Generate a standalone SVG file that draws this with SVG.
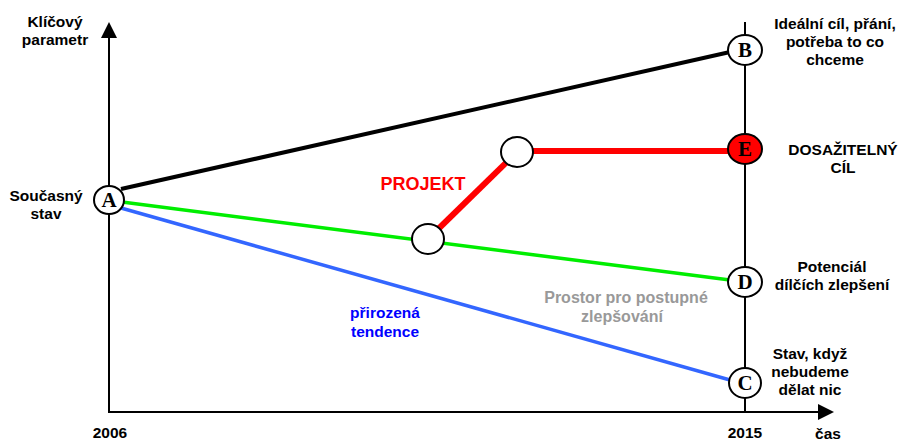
<svg xmlns="http://www.w3.org/2000/svg" width="901" height="442" viewBox="0 0 901 442">
<style>
.t{font-family:"Liberation Sans",Arial,sans-serif;font-weight:bold;font-size:15.5px;fill:#000;text-anchor:middle}
.n{fill:#fff;stroke:#000;stroke-width:2}
.l{font-family:"Liberation Serif","Times New Roman",serif;font-weight:bold;font-size:21px;text-anchor:middle;fill:#000}
</style>
<rect width="901" height="442" fill="#fff"/>
<g id="axes" stroke="#000" stroke-width="2" fill="none">
<line x1="109" y1="412" x2="109" y2="38"/>
<path d="M101,38 L109,22 L117,38 z" fill="#000" stroke="none"/>
<line x1="108" y1="412" x2="818" y2="412"/>
<path d="M818,404 L834,412 L818,420 z" fill="#000" stroke="none"/>
<line x1="745" y1="22" x2="745" y2="412"/>
</g>
<g id="connectors" fill="none">
<line x1="121" y1="189" x2="730" y2="52" stroke="#000" stroke-width="4"/>
<line x1="122" y1="202" x2="730" y2="280" stroke="#00ee00" stroke-width="3.5"/>
<line x1="121" y1="208" x2="730" y2="380" stroke="#3366ff" stroke-width="3.5"/>
<line x1="428" y1="239" x2="517" y2="152" stroke="#ff0000" stroke-width="6"/>
<line x1="517" y1="151" x2="730" y2="151" stroke="#ff0000" stroke-width="6"/>
</g>
<g id="nodeA"><ellipse class="n" cx="109" cy="200" rx="15" ry="14"/><text class="l" x="109" y="207">A</text></g>
<g id="nodeB"><ellipse class="n" cx="745" cy="50" rx="17" ry="15"/><text class="l" x="745" y="57">B</text></g>
<g id="nodeE"><ellipse cx="745" cy="149" rx="17" ry="15" fill="#ff0000" stroke="#000" stroke-width="2"/><text class="l" x="745" y="156">E</text></g>
<g id="nodeD"><ellipse class="n" cx="745" cy="282" rx="17" ry="15"/><text class="l" x="745" y="289">D</text></g>
<g id="nodeC"><ellipse class="n" cx="745" cy="383" rx="16" ry="15"/><text class="l" x="745" y="390">C</text></g>
<g id="node1"><ellipse class="n" cx="428" cy="239" rx="16" ry="15"/></g>
<g id="node2"><ellipse class="n" cx="517" cy="152" rx="16" ry="15"/></g>
<g id="labels">
<text class="t" x="55" y="27">Klíčový</text>
<text class="t" x="55" y="45">parametr</text>
<text class="t" x="46" y="201">Současný</text>
<text class="t" x="46" y="219">stav</text>
<text class="t" x="110" y="438">2006</text>
<text class="t" x="745" y="438">2015</text>
<text class="t" x="828" y="439">čas</text>
<text class="t" x="835" y="29">Ideální cíl,  přání,</text>
<text class="t" x="835" y="47">potřeba to co</text>
<text class="t" x="835" y="65">chceme</text>
<text class="t" x="843" y="155">DOSAŽITELNÝ</text>
<text class="t" x="843" y="173">CÍL</text>
<text class="t" x="832" y="272">Potenciál</text>
<text class="t" x="832" y="290">dílčích zlepšení</text>
<text class="t" x="810" y="359">Stav, když</text>
<text class="t" x="810" y="377">nebudeme</text>
<text class="t" x="810" y="395">dělat nic</text>
<text class="t" x="423" y="190" style="fill:#ff0000;font-size:18px">PROJEKT</text>
<text class="t" x="385" y="318" style="fill:#0000ff">přirozená</text>
<text class="t" x="385" y="337" style="fill:#0000ff">tendence</text>
<text class="t" x="626" y="303" style="fill:#999999;font-size:16px">Prostor pro postupné</text>
<text class="t" x="622" y="322" style="fill:#999999;font-size:16px">zlepšování</text>
</g>
</svg>
